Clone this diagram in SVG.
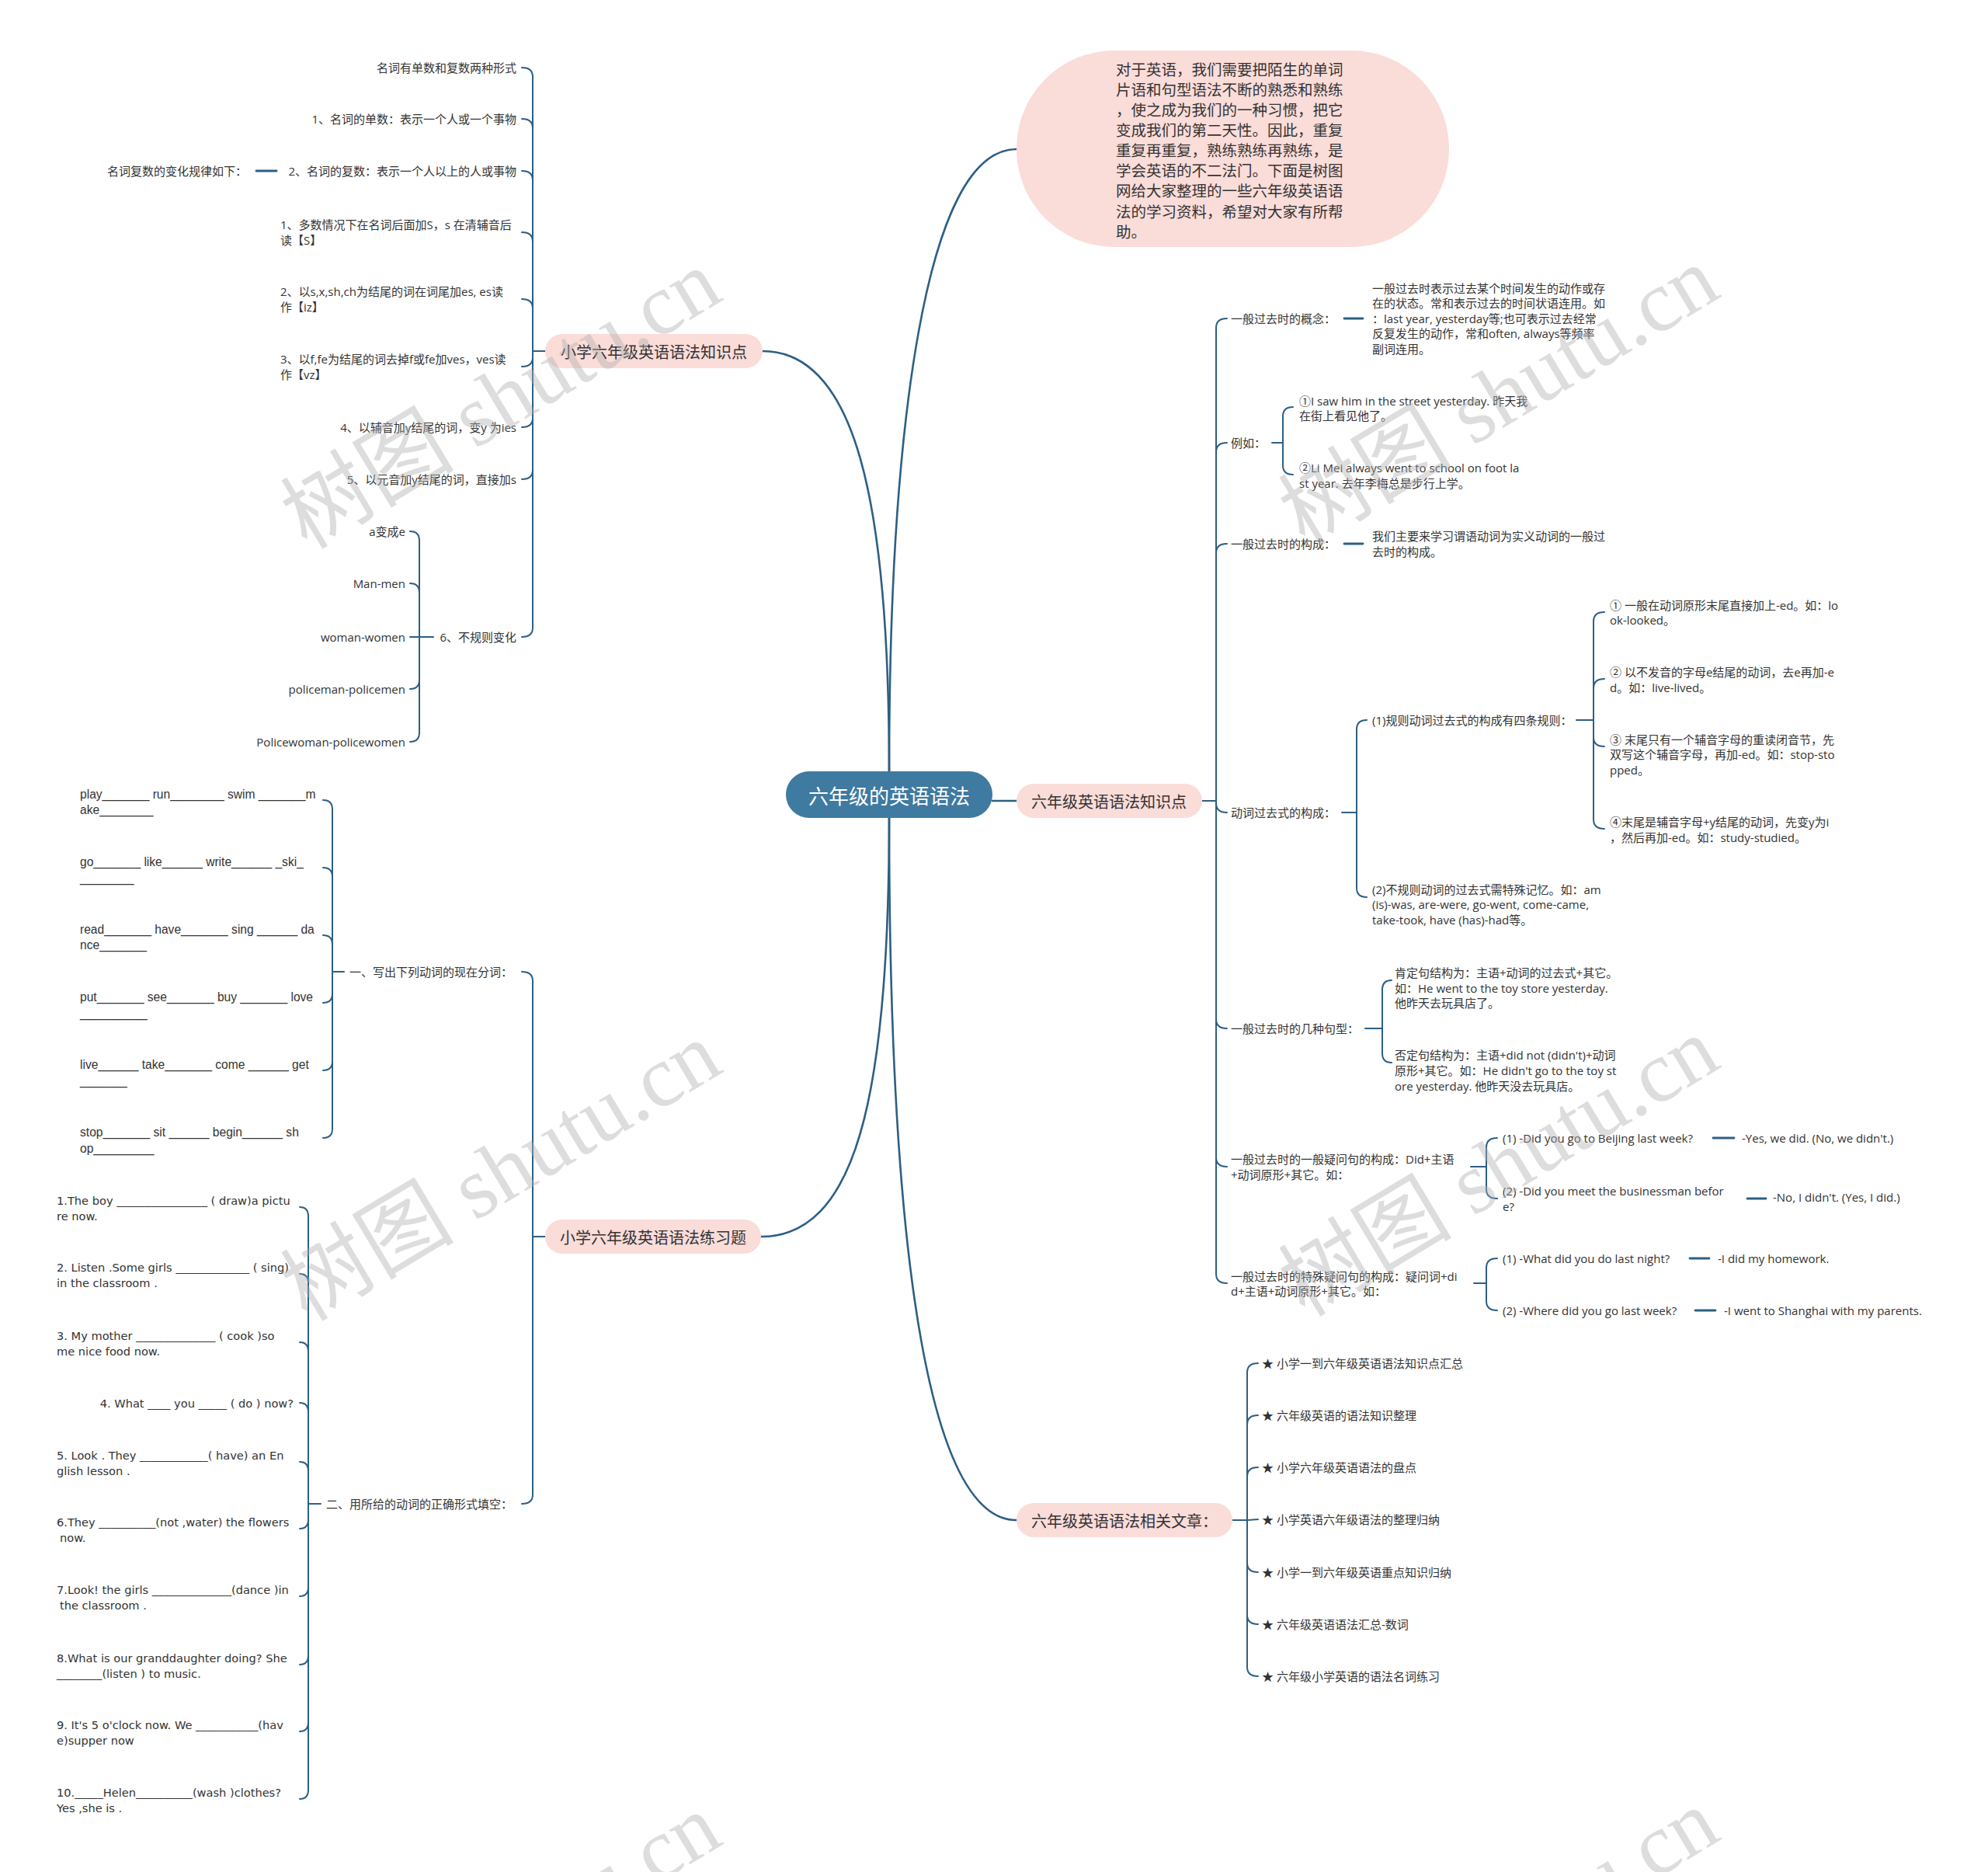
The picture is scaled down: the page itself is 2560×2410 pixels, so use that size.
<svg xmlns="http://www.w3.org/2000/svg" width="2560" height="2410" viewBox="0 0 2560 2410">
<style>
.c{fill:none;stroke:#2d5f84;stroke-width:2;stroke-linecap:round}
.cr{stroke-width:2.6}
.d{stroke-width:2.8}
text,tspan{dominant-baseline:central}
.t{font-family:"Open Sans","Noto Sans CJK SC",sans-serif;font-size:15px;fill:#333}
.p{font-family:"Liberation Sans","Noto Sans CJK SC",sans-serif;font-size:15.6px;fill:#333}
.e{font-family:"DejaVu Sans","Noto Sans CJK SC",sans-serif;font-size:14.6px;fill:#333}
.b{font-family:"Noto Sans CJK SC",sans-serif;font-size:20px;fill:#333;text-anchor:middle}
.r{font-family:"Noto Sans CJK SC",sans-serif;font-size:26px;fill:#fff;text-anchor:middle}
.i{font-family:"Noto Sans CJK SC",sans-serif;font-size:19.5px;fill:#333}
.end{text-anchor:end}
.pill{fill:#fadcd9}
.wm{font-family:"Liberation Serif","Noto Sans CJK SC",serif;font-size:112px;fill:#b0b0b0;opacity:.42;text-anchor:middle}
</style>
<rect width="2560" height="2410" fill="#fff"/>

<g id="connectors">
<!-- root -->
<path class="c cr" d="M1145,993 C1145,560 1190,192 1309,192"/>
<path class="c cr" d="M1145,993 C1145,640 1100,452 982,452"/>
<path class="c cr" d="M1278,1031 L1309,1031"/>
<path class="c cr" d="M1145,1053 C1145,1420 1100,1592 980,1592"/>
<path class="c cr" d="M1145,1053 C1145,1640 1200,1957 1309,1957"/>
<!-- left branch 1 -->
<path class="c" d="M702,452 L686,452"/>
<path class="c" d="M686,452 L686,99 Q686,87 672,87"/>
<path class="c" d="M686,452 L686,165 Q686,153 672,153"/>
<path class="c" d="M686,452 L686,232 Q686,220 672,220"/>
<path class="c" d="M686,452 L686,311 Q686,299 672,299"/>
<path class="c" d="M686,452 L686,397 Q686,385 672,385"/>
<path class="c" d="M686,452 L686,460 Q686,472 672,472"/>
<path class="c" d="M686,452 L686,538 Q686,550 672,550"/>
<path class="c" d="M686,452 L686,605 Q686,617 672,617"/>
<path class="c" d="M686,452 L686,808 Q686,820 672,820"/>
<path class="c d" d="M330,220 L356,220"/>
<path class="c" d="M558,820 L540,820"/>
<path class="c" d="M540,820 L540,696 Q540,684 528,684"/>
<path class="c" d="M540,820 L540,763 Q540,751 528,751"/>
<path class="c" d="M540,820 L528,820"/>
<path class="c" d="M540,820 L540,875 Q540,887 528,887"/>
<path class="c" d="M540,820 L540,943 Q540,955 528,955"/>
<!-- left branch 2 -->
<path class="c" d="M702,1592 L686,1592"/>
<path class="c" d="M686,1592 L686,1263 Q686,1251 672,1251"/>
<path class="c" d="M686,1592 L686,1924 Q686,1936 672,1936"/>
<path class="c" d="M443,1251 L428,1251"/>
<path class="c" d="M428,1251 L428,1042 Q428,1030 416,1030"/>
<path class="c" d="M428,1251 L428,1129 Q428,1117 416,1117"/>
<path class="c" d="M428,1251 L428,1216 Q428,1204 416,1204"/>
<path class="c" d="M428,1251 L428,1279 Q428,1291 416,1291"/>
<path class="c" d="M428,1251 L428,1366 Q428,1378 416,1378"/>
<path class="c" d="M428,1251 L428,1453 Q428,1465 416,1465"/>
<path class="c" d="M413,1936 L397,1936"/>
<path class="c" d="M397,1936 L397,1566 Q397,1554 386,1554"/>
<path class="c" d="M397,1936 L397,1652 Q397,1640 386,1640"/>
<path class="c" d="M397,1936 L397,1740 Q397,1728 386,1728"/>
<path class="c" d="M397,1936 L397,1818 Q397,1806 386,1806"/>
<path class="c" d="M397,1936 L397,1894 Q397,1882 386,1882"/>
<path class="c" d="M397,1936 L397,1956 Q397,1968 386,1968"/>
<path class="c" d="M397,1936 L397,2043 Q397,2055 386,2055"/>
<path class="c" d="M397,1936 L397,2131 Q397,2143 386,2143"/>
<path class="c" d="M397,1936 L397,2217 Q397,2229 386,2229"/>
<path class="c" d="M397,1936 L397,2304 Q397,2316 386,2316"/>
<!-- right branch 1 -->
<path class="c" d="M1548,1031 L1566,1031"/>
<path class="c" d="M1566,1031 L1566,422 Q1566,410 1580,410"/>
<path class="c" d="M1566,1031 L1566,582 Q1566,570 1580,570"/>
<path class="c" d="M1566,1031 L1566,712 Q1566,700 1580,700"/>
<path class="c" d="M1566,1031 L1566,1034 Q1566,1046 1580,1046"/>
<path class="c" d="M1566,1031 L1566,1312 Q1566,1324 1580,1324"/>
<path class="c" d="M1566,1031 L1566,1490 Q1566,1502 1580,1502"/>
<path class="c" d="M1566,1031 L1566,1640 Q1566,1652 1580,1652"/>
<path class="c d" d="M1731,410 L1755,410"/>
<path class="c d" d="M1731,700 L1755,700"/>
<path class="c" d="M1638,570 L1652,570"/>
<path class="c" d="M1652,570 L1652,536 Q1652,524 1665,524"/>
<path class="c" d="M1652,570 L1652,599 Q1652,611 1665,611"/>
<path class="c" d="M1728,1046 L1747,1046"/>
<path class="c" d="M1747,1046 L1747,939 Q1747,927 1760,927"/>
<path class="c" d="M1747,1046 L1747,1143 Q1747,1155 1760,1155"/>
<path class="c" d="M2030,927 L2052,927"/>
<path class="c" d="M2052,927 L2052,800 Q2052,788 2066,788"/>
<path class="c" d="M2052,927 L2052,886 Q2052,874 2066,874"/>
<path class="c" d="M2052,927 L2052,949 Q2052,961 2066,961"/>
<path class="c" d="M2052,927 L2052,1055 Q2052,1067 2066,1067"/>
<path class="c" d="M1758,1324 L1780,1324"/>
<path class="c" d="M1780,1324 L1780,1274 Q1780,1262 1792,1262"/>
<path class="c" d="M1780,1324 L1780,1356 Q1780,1368 1792,1368"/>
<path class="c" d="M1894,1502 L1914,1502"/>
<path class="c" d="M1914,1502 L1914,1477 Q1914,1465 1928,1465"/>
<path class="c" d="M1914,1502 L1914,1531 Q1914,1543 1928,1543"/>
<path class="c" d="M1898,1652 L1914,1652"/>
<path class="c" d="M1914,1652 L1914,1632 Q1914,1620 1928,1620"/>
<path class="c" d="M1914,1652 L1914,1675 Q1914,1687 1928,1687"/>
<path class="c d" d="M2206,1465 L2233,1465"/>
<path class="c d" d="M2250,1543 L2274,1543"/>
<path class="c d" d="M2176,1620 L2201,1620"/>
<path class="c d" d="M2183,1687 L2209,1687"/>
<!-- right branch 2 -->
<path class="c" d="M1587,1957 L1606,1957"/>
<path class="c" d="M1606,1957 L1606,1767 Q1606,1755 1620,1755"/>
<path class="c" d="M1606,1957 L1606,1834 Q1606,1822 1620,1822"/>
<path class="c" d="M1606,1957 L1606,1901 Q1606,1889 1620,1889"/>
<path class="c" d="M1606,1957 L1620,1956"/>
<path class="c" d="M1606,1957 L1606,2012 Q1606,2024 1620,2024"/>
<path class="c" d="M1606,1957 L1606,2079 Q1606,2091 1620,2091"/>
<path class="c" d="M1606,1957 L1606,2146 Q1606,2158 1620,2158"/>
</g>

<g id="root">
<rect x="1012" y="993" width="266" height="60" rx="30" fill="#3f7aa0"/>
<text class="r" x="1145" y="1023">六年级的英语语法</text>
</g>

<g id="intro">
<rect x="1309" y="65" width="557" height="253" rx="126" class="pill"/>
<text class="i"><tspan x="1437" y="88">对于英语，我们需要把陌生的单词</tspan><tspan x="1437" y="114">片语和句型语法不断的熟悉和熟练</tspan><tspan x="1437" y="140">，使之成为我们的一种习惯，把它</tspan><tspan x="1437" y="166">变成我们的第二天性。因此，重复</tspan><tspan x="1437" y="192">重复再重复，熟练熟练再熟练，是</tspan><tspan x="1437" y="218">学会英语的不二法门。下面是树图</tspan><tspan x="1437" y="244">网给大家整理的一些六年级英语语</tspan><tspan x="1437" y="271">法的学习资料，希望对大家有所帮</tspan><tspan x="1437" y="297">助。</tspan></text>
</g>

<g id="branch-knowledge-left">
<rect x="702" y="430" width="280" height="44" rx="22" class="pill"/>
<text class="b" x="842" y="452">小学六年级英语语法知识点</text>
</g>
<g id="left1-items">
<text class="t end" x="665" y="87">名词有单数和复数两种形式</text>
<text class="t end" x="665" y="153">1、名词的单数：表示一个人或一个事物</text>
<text class="t end" x="665" y="220">2、名词的复数：表示一个人以上的人或事物</text>
<text class="t end" x="318" y="220">名词复数的变化规律如下：</text>
<text class="t"><tspan x="361" y="289">1、多数情况下在名词后面加S，s 在清辅音后</tspan><tspan x="361" y="309">读【S】</tspan></text>
<text class="t"><tspan x="361" y="375">2、以s,x,sh,ch为结尾的词在词尾加es, es读</tspan><tspan x="361" y="395">作【iz】</tspan></text>
<text class="t"><tspan x="361" y="462">3、以f,fe为结尾的词去掉f或fe加ves，ves读</tspan><tspan x="361" y="482">作【vz】</tspan></text>
<text class="t end" x="665" y="550">4、以辅音加y结尾的词，变y 为ies</text>
<text class="t end" x="665" y="617">5、以元音加y结尾的词，直接加s</text>
<text class="t end" x="665" y="820">6、不规则变化</text>
<text class="t end" x="522" y="684">a变成e</text>
<text class="t end" x="522" y="751">Man-men</text>
<text class="t end" x="522" y="820">woman-women</text>
<text class="t end" x="522" y="887">policeman-policemen</text>
<text class="t end" x="522" y="955">Policewoman-policewomen</text>
</g>

<g id="branch-exercise">
<rect x="702" y="1570" width="278" height="44" rx="22" class="pill"/>
<text class="b" x="841" y="1592">小学六年级英语语法练习题</text>
</g>
<g id="exercise-items">
<text class="t end" x="660" y="1251">一、写出下列动词的现在分词：</text>
<text class="p"><tspan x="103" y="1022">play_______ run________ swim _______m</tspan><tspan x="103" y="1042">ake________</tspan></text>
<text class="p"><tspan x="103" y="1109">go_______ like______ write______ _ski_</tspan><tspan x="103" y="1130">________</tspan></text>
<text class="p"><tspan x="103" y="1196">read_______ have_______ sing ______ da</tspan><tspan x="103" y="1216">nce_______</tspan></text>
<text class="p"><tspan x="103" y="1283">put_______ see_______ buy _______ love</tspan><tspan x="103" y="1304">__________</tspan></text>
<text class="p"><tspan x="103" y="1370">live______ take_______ come ______ get</tspan><tspan x="103" y="1391">_______</tspan></text>
<text class="p"><tspan x="103" y="1457">stop_______ sit ______ begin______ sh</tspan><tspan x="103" y="1478">op_________</tspan></text>
<text class="t end" x="660" y="1936">二、用所给的动词的正确形式填空：</text>
<text class="e"><tspan x="73" y="1545">1.The boy ________________ ( draw)a pictu</tspan><tspan x="73" y="1565">re now.</tspan></text>
<text class="e"><tspan x="73" y="1631">2. Listen .Some girls _____________ ( sing)</tspan><tspan x="73" y="1651">in the classroom .</tspan></text>
<text class="e"><tspan x="73" y="1719">3. My mother ______________ ( cook )so</tspan><tspan x="73" y="1739">me nice food now.</tspan></text>
<text class="e end" x="378" y="1806">4. What ____ you _____ ( do ) now?</text>
<text class="e"><tspan x="73" y="1873">5. Look . They ____________( have) an En</tspan><tspan x="73" y="1893">glish lesson .</tspan></text>
<text class="e"><tspan x="73" y="1959">6.They __________(not ,water) the flowers</tspan><tspan x="77" y="1979">now.</tspan></text>
<text class="e"><tspan x="73" y="2046">7.Look! the girls ______________(dance )in</tspan><tspan x="77" y="2066">the classroom .</tspan></text>
<text class="e"><tspan x="73" y="2134">8.What is our granddaughter doing? She</tspan><tspan x="73" y="2154">________(listen ) to music.</tspan></text>
<text class="e"><tspan x="73" y="2220">9. It's 5 o'clock now. We ___________(hav</tspan><tspan x="73" y="2240">e)supper now</tspan></text>
<text class="e"><tspan x="73" y="2307">10._____Helen__________(wash )clothes?</tspan><tspan x="73" y="2327">Yes ,she is .</tspan></text>
</g>

<g id="branch-knowledge-right">
<rect x="1309" y="1009" width="239" height="44" rx="22" class="pill"/>
<text class="b" x="1428" y="1031">六年级英语语法知识点</text>
</g>
<g id="right1-items">
<text class="t" x="1585" y="410">一般过去时的概念：</text>
<text class="t"><tspan x="1767" y="371">一般过去时表示过去某个时间发生的动作或存</tspan><tspan x="1767" y="390">在的状态。常和表示过去的时间状语连用。如</tspan><tspan x="1767" y="410">：last year, yesterday等;也可表示过去经常</tspan><tspan x="1767" y="429">反复发生的动作，常和often, always等频率</tspan><tspan x="1767" y="449">副词连用。</tspan></text>
<text class="t" x="1585" y="570">例如：</text>
<text class="t"><tspan x="1673" y="516">①I saw him in the street yesterday. 昨天我</tspan><tspan x="1673" y="535">在街上看见他了。</tspan></text>
<text class="t"><tspan x="1673" y="602">②Li Mei always went to school on foot la</tspan><tspan x="1673" y="622">st year. 去年李梅总是步行上学。</tspan></text>
<text class="t" x="1585" y="700">一般过去时的构成：</text>
<text class="t"><tspan x="1767" y="690">我们主要来学习谓语动词为实义动词的一般过</tspan><tspan x="1767" y="710">去时的构成。</tspan></text>
<text class="t" x="1585" y="1046">动词过去式的构成：</text>
<text class="t" x="1767" y="927">(1)规则动词过去式的构成有四条规则：</text>
<text class="t"><tspan x="2073" y="779">① 一般在动词原形末尾直接加上-ed。如：lo</tspan><tspan x="2073" y="798">ok-looked。</tspan></text>
<text class="t"><tspan x="2073" y="865">② 以不发音的字母e结尾的动词，去e再加-e</tspan><tspan x="2073" y="885">d。如：live-lived。</tspan></text>
<text class="t"><tspan x="2073" y="952">③ 末尾只有一个辅音字母的重读闭音节，先</tspan><tspan x="2073" y="971">双写这个辅音字母，再加-ed。如：stop-sto</tspan><tspan x="2073" y="991">pped。</tspan></text>
<text class="t"><tspan x="2073" y="1058">④末尾是辅音字母+y结尾的动词，先变y为i</tspan><tspan x="2073" y="1078">，然后再加-ed。如：study-studied。</tspan></text>
<text class="t"><tspan x="1767" y="1145">(2)不规则动词的过去式需特殊记忆。如：am</tspan><tspan x="1767" y="1164">(is)-was, are-were, go-went, come-came,</tspan><tspan x="1767" y="1184">take-took, have (has)-had等。</tspan></text>
<text class="t" x="1585" y="1324">一般过去时的几种句型：</text>
<text class="t"><tspan x="1796" y="1252">肯定句结构为：主语+动词的过去式+其它。</tspan><tspan x="1796" y="1272">如：He went to the toy store yesterday.</tspan><tspan x="1796" y="1291">他昨天去玩具店了。</tspan></text>
<text class="t"><tspan x="1796" y="1358">否定句结构为：主语+did not (didn't)+动词</tspan><tspan x="1796" y="1378">原形+其它。如：He didn't go to the toy st</tspan><tspan x="1796" y="1398">ore yesterday. 他昨天没去玩具店。</tspan></text>
<text class="t"><tspan x="1585" y="1492">一般过去时的一般疑问句的构成：Did+主语</tspan><tspan x="1585" y="1512">+动词原形+其它。如：</tspan></text>
<text class="t" x="1935" y="1465">(1) -Did you go to Beijing last week?</text>
<text class="t" x="2243" y="1465">-Yes, we did. (No, we didn't.)</text>
<text class="t"><tspan x="1935" y="1533">(2) -Did you meet the businessman befor</tspan><tspan x="1935" y="1553">e?</tspan></text>
<text class="t" x="2283" y="1541">-No, I didn't. (Yes, I did.)</text>
<text class="t"><tspan x="1585" y="1643">一般过去时的特殊疑问句的构成：疑问词+di</tspan><tspan x="1585" y="1662">d+主语+动词原形+其它。如：</tspan></text>
<text class="t" x="1935" y="1620">(1) -What did you do last night?</text>
<text class="t" x="2212" y="1620">-I did my homework.</text>
<text class="t" x="1935" y="1687">(2) -Where did you go last week?</text>
<text class="t" x="2220" y="1687">-I went to Shanghai with my parents.</text>
</g>

<g id="branch-articles">
<rect x="1309" y="1935" width="278" height="44" rx="22" class="pill"/>
<text class="b" x="1448" y="1957">六年级英语语法相关文章：</text>
</g>
<g id="article-items">
<text class="t" x="1625" y="1755">★ 小学一到六年级英语语法知识点汇总</text>
<text class="t" x="1625" y="1822">★ 六年级英语的语法知识整理</text>
<text class="t" x="1625" y="1889">★ 小学六年级英语语法的盘点</text>
<text class="t" x="1625" y="1956">★ 小学英语六年级语法的整理归纳</text>
<text class="t" x="1625" y="2024">★ 小学一到六年级英语重点知识归纳</text>
<text class="t" x="1625" y="2091">★ 六年级英语语法汇总-数词</text>
<text class="t" x="1625" y="2158">★ 六年级小学英语的语法名词练习</text>
</g>

<g id="watermark">
<text class="wm" transform="translate(645,514) rotate(-31)">树图 shutu.cn</text>
<text class="wm" transform="translate(1930,510) rotate(-31)">树图 shutu.cn</text>
<text class="wm" transform="translate(645,1508) rotate(-31)">树图 shutu.cn</text>
<text class="wm" transform="translate(1930,1502) rotate(-31)">树图 shutu.cn</text>
<text class="wm" transform="translate(645,2502) rotate(-31)">树图 shutu.cn</text>
<text class="wm" transform="translate(1930,2496) rotate(-31)">树图 shutu.cn</text>
</g>
</svg>
